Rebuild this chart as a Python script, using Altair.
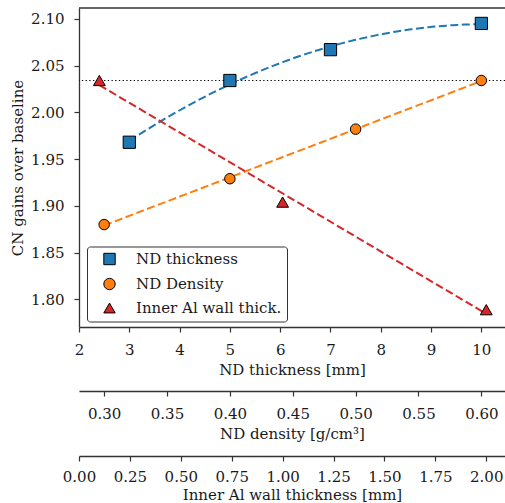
import altair as alt
import pandas as pd

# Measured CN gain over the baseline configuration for three detector parameters
nd_thickness_mm = [3, 5, 7, 10]
gain_thickness = [1.968, 2.034, 2.067, 2.095]

nd_density = [0.30, 0.40, 0.50, 0.60]
gain_density = [1.880, 1.929, 1.982, 2.034]

al_wall_mm = [0.1, 1.0, 2.0]
gain_al = [2.034, 1.904, 1.789]

baseline_gain = 2.034

series_names = ["ND thickness", "ND Density", "Inner Al wall thick."]
series_colors = ["#1f77b4", "#ff7f0e", "#d62728"]
series_shapes = ["square", "circle", "triangle-up"]
edge_colors = ["black", "black", "black"]

thickness_ticks = [2, 3, 4, 5, 6, 7, 8, 9, 10]
density_ticks = [0.30, 0.35, 0.40, 0.45, 0.50, 0.55, 0.60]
al_ticks = [0.00, 0.25, 0.50, 0.75, 1.00, 1.25, 1.50, 1.75, 2.00]
gain_ticks = [1.80, 1.85, 1.90, 1.95, 2.00, 2.05, 2.10]

FONT = "DejaVu Serif"
FS = 15
INK = "#333333"
TEXT = "#1a1a1a"

df_thk = pd.DataFrame({"x": nd_thickness_mm, "gain": gain_thickness, "series": series_names[0]})
df_den = pd.DataFrame({"x": nd_density, "gain": gain_density, "series": series_names[1]})
df_al = pd.DataFrame({"x": al_wall_mm, "gain": gain_al, "series": series_names[2]})

y_enc = alt.Y(
    "gain:Q",
    scale=alt.Scale(domain=[1.7705, 2.1115], nice=False, zero=False),
    axis=alt.Axis(values=gain_ticks, format=".2f", title="CN gains over baseline",
                  titlePadding=5),
)

legend = alt.Legend(
    title=None, orient="none", legendX=8, legendY=238.5,
    strokeColor=INK, fillColor="white", cornerRadius=3, padding=5,
    labelFont=FONT, labelFontSize=FS, labelColor=TEXT, labelOffset=19,
    symbolSize=130, symbolStrokeWidth=1,
    symbolOffset=10, symbolOpacity=1, rowPadding=8,
)
color_enc = alt.Color("series:N", scale=alt.Scale(domain=series_names, range=series_colors),
                      legend=legend)
shape_enc = alt.Shape("series:N", scale=alt.Scale(domain=series_names, range=series_shapes),
                      legend=legend)
stroke_enc = alt.Stroke("series:N", scale=alt.Scale(domain=series_names, range=edge_colors),
                        legend=legend)


def axis_group(df, x_enc, fit, size):
    base = alt.Chart(df)
    if fit == "poly":
        reg = base.transform_regression("x", "gain", method="poly", order=2)
    else:
        reg = base.transform_regression("x", "gain", method="linear")
    color = series_colors[series_names.index(df["series"][0])]
    line = reg.mark_line(color=color, strokeWidth=2, strokeDash=[8, 3.5]).encode(x=x_enc, y=y_enc)
    pts = base.mark_point(filled=True, opacity=1, strokeWidth=1, size=size).encode(
        x=x_enc, y=y_enc, color=color_enc, shape=shape_enc, stroke=stroke_enc
    )
    return line, pts


x_thk = alt.X("x:Q", scale=alt.Scale(domain=[2, 10.47], nice=False, zero=False),
              axis=alt.Axis(values=thickness_ticks, format="d", title="ND thickness [mm]"))
x_den = alt.X("x:Q", scale=alt.Scale(domain=[0.28, 0.6188], nice=False, zero=False),
              axis=alt.Axis(values=density_ticks, format=".2f", title="ND density [g/cm³]",
                            orient="bottom", offset=64))
x_al = alt.X("x:Q", scale=alt.Scale(domain=[0, 2.092], nice=False, zero=False),
             axis=alt.Axis(values=al_ticks, format=".2f", title="Inner Al wall thickness [mm]",
                           orient="bottom", offset=129, labelPadding=8, titlePadding=3))

line_thk, pts_thk = axis_group(df_thk, x_thk, "poly", 150)
line_den, pts_den = axis_group(df_den, x_den, "linear", 110)
line_al, pts_al = axis_group(df_al, x_al, "linear", 140)

baseline = alt.Chart(pd.DataFrame({"gain": [baseline_gain]})).mark_rule(
    color="black", strokeWidth=1.2, strokeDash=[1.3, 2.4]
).encode(y=y_enc)

# top frame line of the plot area
top_frame = alt.Chart(pd.DataFrame({"gain": [2.1115]})).mark_rule(
    color=INK, strokeWidth=1.3
).encode(y=y_enc)

group_thk = alt.layer(baseline, top_frame, line_thk, pts_thk)
group_den = alt.layer(line_den, pts_den)
group_al = alt.layer(line_al, pts_al)

chart = (
    alt.layer(group_thk, group_den, group_al)
    .resolve_scale(x="independent", y="shared", color="shared", shape="shared", stroke="shared")
    .properties(
        width=426, height=319,
        autosize=alt.AutoSizeParams(type="none"),
        padding={"left": 79, "top": 8, "right": 0, "bottom": 176},
    )
    .configure(font=FONT)
    .configure_view(stroke=None)
    .configure_legend(labelFont=FONT, labelFontSize=FS)
    .configure_axis(
        labelFont=FONT, labelFontSize=FS, labelColor=TEXT,
        titleFont=FONT, titleFontSize=FS, titleFontWeight="normal", titleColor=TEXT,
        domainColor=INK, domainWidth=1.3, tickColor=INK, tickWidth=1.2, tickSize=5,
        labelPadding=10, titlePadding=5, grid=False, labelFlush=False,
    )
)

chart.save("out.html", embed_options={"renderer": "svg", "actions": False})
